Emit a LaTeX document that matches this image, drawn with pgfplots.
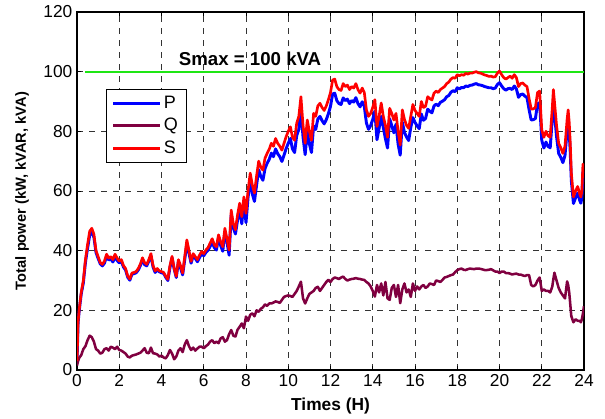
\documentclass[border=0pt]{standalone}
\usepackage{fontspec}
\setmainfont{Liberation Sans}
\usepackage{pgfplots}
\usepackage{pgfplotstable}
\pgfplotsset{compat=1.18}
\definecolor{Pcol}{rgb}{0,0,1}
\definecolor{Qcol}{rgb}{0.5,0,0.25}
\definecolor{Scol}{rgb}{1,0,0}
\definecolor{smaxgreen}{RGB}{30,230,20}

\pgfplotstableread{
t P Q S
0.0 2.5 1.5 3
0.05 15.7 3 16
0.1 19.6 4 20
0.2 25.5 5 26
0.3 29.2 7 30
0.4 36.1 8 37
0.5 40.8 10 42
0.6 45.1 11.5 46.5
0.7 46.2 11 47.5
0.8 44.5 9.5 45.5
0.9 39.4 7 40
1.0 37.4 6.5 38
1.1 35.6 5.5 36
1.2 34.9 5.8 35.4
1.3 35.8 7 36.5
1.4 38.1 7.3 38.8
1.5 36.9 6.5 37.5
1.6 37.2 7.8 38
1.7 36.2 7.5 37
1.8 38.1 7 38.8
1.9 36.7 7.8 37.5
2.0 35.9 6.7 36.5
2.1 36.4 6.5 37
2.2 34.5 6 35
2.3 33.5 5.5 34
2.4 31.1 4.5 31.5
2.5 30.1 4.2 30.5
2.6 32.1 4.8 32.5
2.7 32.3 5 32.7
2.8 32.6 5.2 33
2.9 33.5 5.5 34
3.0 35.0 5.8 35.5
3.1 37.0 6.5 37.6
3.2 35.3 7.3 36
3.3 34.9 5.8 35.4
3.4 36.5 5.6 37
3.5 38.3 7.5 39
3.6 34.5 5.6 35
3.7 32.7 5.5 33.2
3.8 33.6 5.2 34
3.9 32.9 4.5 33.2
4.0 32.6 4.8 33
4.1 32.4 4.2 32.7
4.2 31.1 3.9 31.4
4.3 30.0 5 30.4
4.4 34.3 6.7 35
4.5 37.6 5.5 38.1
4.6 33.8 3.6 34
4.7 31.0 4.5 31.4
4.8 36.4 6.5 37
4.9 34.2 7.3 35
5.0 31.9 6 32.5
5.1 37.0 8.5 38
5.2 42.4 10 43.6
5.3 39.2 8 40
5.4 35.8 6.7 36.4
5.5 38.3 7.5 39
5.6 37.4 6.5 38
5.7 36.3 7.2 37
5.8 37.7 7.8 38.5
5.9 38.9 7.8 39.7
6.0 38.3 7.3 39
6.1 39.4 8 40.2
6.2 40.1 8.5 41
6.3 41.4 9.5 42.5
6.4 42.9 10 44
6.5 41.0 9 42
6.6 40.2 9.5 41.3
6.7 44.4 9 45.3
6.8 41.7 10.6 43
6.9 39.8 11 41.3
7.0 46.5 9.5 47.5
7.1 42.8 10 44
7.2 38.5 12 40.2
7.3 51.9 13.4 53.6
7.4 47.6 11.5 49
7.5 45.6 11.2 47
7.6 50.2 13.5 52
7.7 54.0 14.5 55.9
7.8 49.0 15.6 51.4
7.9 56.3 14 58
8.0 49.4 17.9 52.5
8.1 58.1 16.5 60.4
8.2 63.4 18.5 66
8.3 59.0 19 62
8.4 56.5 18 59.3
8.5 61.9 20 65
8.6 67.2 19.5 70
8.7 64.9 20.5 68
8.8 63.6 21 67
8.9 67.5 22 71
9.0 69.3 21.5 72.6
9.1 70.6 22.3 74
9.2 72.7 22.3 76
9.3 71.5 22.6 75
9.4 74.1 23 77.6
9.5 72.5 22.8 76
9.6 71.5 22.5 75
9.7 69.9 23.5 73.7
9.8 72.0 24.5 76
9.9 74.2 24.8 78.2
10.0 76.0 25 80
10.1 77.6 24.8 81.5
10.2 74.1 24.5 78
10.3 72.9 25.5 77
10.4 78.6 26.5 82.7
10.5 80.6 28 85
10.6 87.2 29.6 91.6
10.7 78.1 24 82
10.8 72.2 22.3 76
10.9 79.8 24 83.8
11.0 75.8 25.5 80
11.1 72.9 26 77
11.2 81.8 26.5 86
11.3 80.6 27.5 85
11.4 84.1 27.9 88.5
11.5 85.0 26.5 89.4
11.6 83.6 27.5 88
11.7 82.5 28.5 87
11.8 83.9 29.5 88.5
11.9 85.9 30.2 90.6
12.0 88.4 29.5 93
12.1 92.5 30.5 97.2
12.2 92.8 31 97.5
12.3 90.3 30.8 95
12.4 89.3 30.5 94
12.5 89.0 31 93.7
12.6 91.2 31.3 96
12.7 90.3 30.5 95
12.8 90.8 30 95.5
12.9 89.3 30.3 94
13.0 90.3 30.5 95
13.1 89.8 30.6 94.5
13.2 91.3 30.8 96
13.3 89.3 30.6 94
13.4 88.2 30.5 92.8
13.5 89.9 30.3 94.5
13.6 88.4 30.2 93
13.7 82.8 29.5 87.2
13.8 80.7 29 85
13.9 81.9 28 86
14.0 84.0 26.5 88
14.1 86.8 24.6 90.6
14.2 77.2 28.5 81.6
14.3 81.0 26 85
14.4 85.0 29 89.5
14.5 81.3 25 85
14.6 77.5 29.5 82
14.7 74.4 24 78
14.8 84.2 23.5 87.7
14.9 81.9 27.5 86
15.0 79.5 28.5 83.8
15.1 82.4 24.5 86
15.2 75.7 28.5 80
15.3 72.0 22.4 75.4
15.4 83.1 27 87.2
15.5 79.6 29 84
15.6 78.1 26 82
15.7 76.9 27 81
15.8 81.3 24.5 85
15.9 84.6 29 89
16.0 83.0 26.5 87
16.1 81.8 28 86
16.2 80.9 27 85
16.3 85.8 28 90
16.4 83.7 28.5 88
16.5 84.3 27.5 88.4
16.6 87.4 28 91.6
16.7 86.7 29 91
16.8 86.2 28.8 90.5
16.9 88.5 28.5 92.8
17.0 89.1 30 93.5
17.1 88.6 29.8 93
17.2 89.7 29.5 94
17.3 90.1 30.2 94.5
17.4 90.6 31 95
17.5 91.6 31.2 96
17.6 92.0 31.5 96.5
17.7 93.1 31.8 97.5
17.8 93.6 32 98
17.9 93.3 32.8 97.8
18.0 94.6 33.5 99
18.1 94.2 33.8 98.6
18.2 94.7 34 99
18.3 94.6 33.6 98.8
18.4 95.2 33.5 99.4
18.5 95.0 33.8 99.2
18.6 95.4 34 99.5
18.7 95.5 33.9 99.5
18.8 95.8 33.8 99.8
18.9 96.0 34 100
19.0 95.6 34 99.6
19.1 95.5 33.9 99.5
19.2 95.3 33.7 99.2
19.3 95.0 33.5 98.9
19.4 94.8 33.5 98.7
19.5 94.6 33.6 98.4
19.6 94.6 33.8 98.5
19.7 94.3 33.4 98.2
19.8 94.5 33 98.3
19.9 95.7 33 99.5
20.0 96.3 32.5 100.2
20.1 95.2 33 99
20.2 94.3 33 98
20.3 93.8 32.5 97.5
20.4 94.3 32.5 98
20.5 94.4 32.3 98.5
20.6 94.0 32 97.8
20.7 95.2 32.2 99
20.8 94.2 32.3 98
20.9 91.4 32 95
21.0 92.3 32 96
21.1 92.5 31.7 96.2
21.2 91.8 31.5 95.5
21.3 91.3 31.8 95
21.4 87.3 31.8 91
21.5 83.8 28.5 87.5
21.6 83.9 28 87.5
21.7 84.3 28.5 88
21.8 89.2 30 93
21.9 89.6 31 93.5
22.0 77.0 26.5 80.5
22.1 74.4 27 78
22.2 76.4 26.5 80
22.3 74.9 26.5 78.5
22.4 74.5 26 78
22.5 84.3 28 88
22.55 90.2 30.5 94
22.6 86.0 32.6 90
22.7 78.3 30 82
22.8 72.6 27.5 76
22.9 71.3 26 74.5
23.0 69.5 25 72.6
23.1 71.9 24 75
23.2 80.3 29.7 84
23.25 83.5 28.5 87.2
23.3 79.5 26 83
23.35 72.9 22 76
23.4 63.5 18 66
23.5 55.8 16 58
23.6 57.7 17 60
23.7 59.3 16.5 61.5
23.8 56.8 16.5 59
23.85 55.9 16 58
23.9 57.7 17 60
23.95 66.4 19 69
24.0 63.4 21.4 66
}\powerdata

\begin{document}
\begin{tikzpicture}
\begin{axis}[
  scale only axis, width=380.25pt, height=268.5pt,
  xmin=0, xmax=24, ymin=0, ymax=120,
  xtick={0,2,...,24}, ytick={0,20,...,120},
  tick align=inside, major tick length=3pt,
  xtick pos=both, ytick pos=both,
  grid=major,
  major grid style={black!80, dash pattern=on 4.5pt off 4.5pt, line width=0.5pt},
  axis line style={line width=0.9pt},
  every tick/.style={black, line width=0.6pt},
  xlabel={\bfseries Times (H)},
  ylabel={\bfseries Total power (kW, kVAR, kVA)},
  xlabel style={font=\fontsize{13}{15}\selectfont, yshift=-1pt},
  ylabel style={font=\fontsize{11}{13}\selectfont, yshift=4pt},
  /pgf/number format/assume math mode=true,
  tick label style={font=\fontsize{13}{15}\selectfont},
  legend style={at={(0.057,0.785)}, anchor=north west, draw=black, line width=0.6pt,
    fill=white, font=\fontsize{13.5}{15}\selectfont, inner xsep=4pt, inner ysep=3pt,
    row sep=2pt},
  legend cell align=left,
  legend image code/.code={\draw[#1] (0pt,0pt) -- (35pt,0pt);},
]
\addplot[color=smaxgreen, line width=1.4pt, forget plot] coordinates {(0.4,100) (24,100)};
\addplot[Pcol, line width=2.2pt, line join=round] table[x=t, y=P] {\powerdata};
\addlegendentry{P}
\addplot[Qcol, line width=1.9pt, line join=round] table[x=t, y=Q] {\powerdata};
\addlegendentry{Q}
\addplot[Scol, line width=2.0pt, line join=round] table[x=t, y=S] {\powerdata};
\addlegendentry{S}
\node[anchor=west, font=\fontsize{14}{16}\selectfont\bfseries] at (axis cs:4.6,104.3) {Smax = 100 kVA};
\coordinate (bl) at (rel axis cs:0,0);
\coordinate (tr) at (rel axis cs:1,1);
\end{axis}
\pgfresetboundingbox
\path[use as bounding box] ([xshift=-57.75pt,yshift=-36.75pt]bl) rectangle ([xshift=15.75pt,yshift=9pt]tr);
\end{tikzpicture}
\end{document}
